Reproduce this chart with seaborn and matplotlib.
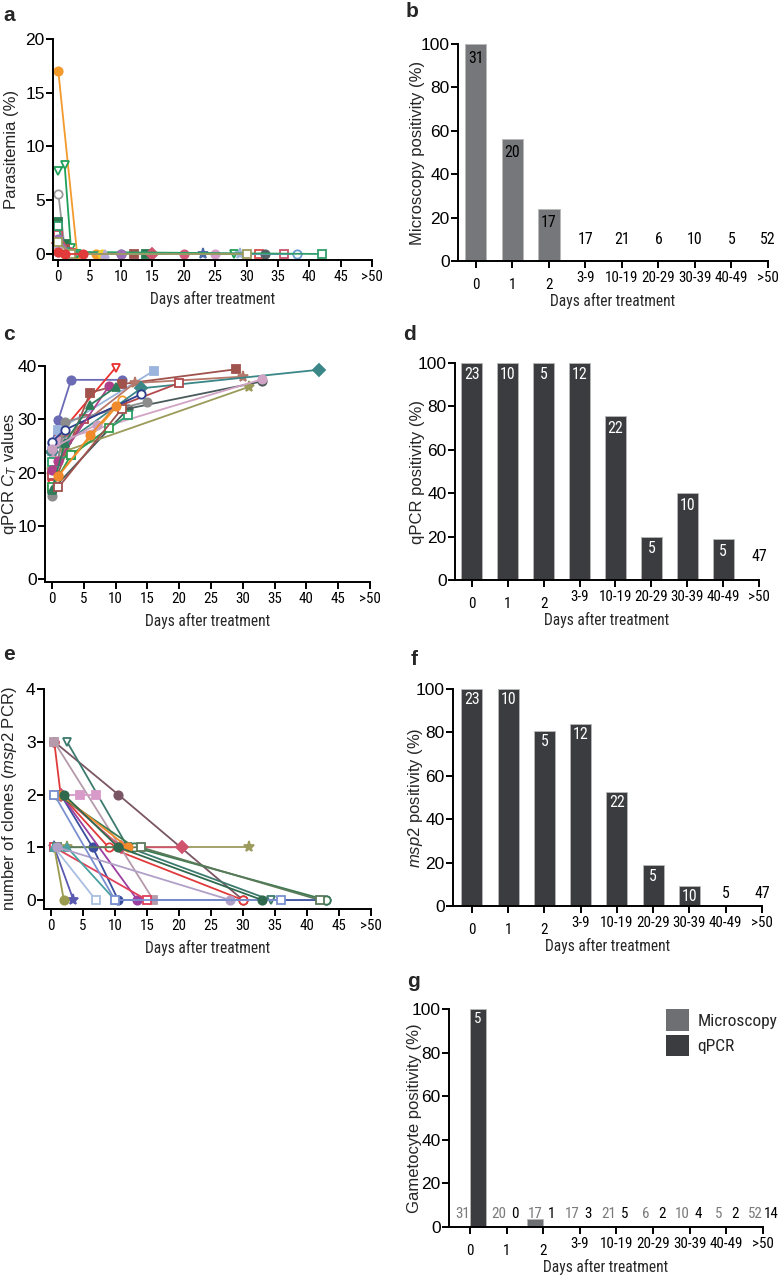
import os
import numpy as np
import pandas as pd
import matplotlib
matplotlib.use("Agg")
import matplotlib.pyplot as plt
from matplotlib import patheffects
from matplotlib import font_manager as fm
from matplotlib.transforms import Affine2D
import seaborn as sns

sns.set_theme(style="ticks")
plt.rcParams["font.family"] = ["Liberation Sans", "DejaVu Sans"]
plt.rcParams["mathtext.fontset"] = "custom"
plt.rcParams["mathtext.it"] = "Liberation Sans:italic"
plt.rcParams["mathtext.rm"] = "Liberation Sans"

# ------------------------------------------------------------------
# data
# ------------------------------------------------------------------
DAY_TICKS = [0, 5, 10, 15, 20, 25, 30, 35, 40, 45, 50]
DAY_TICKLABELS = ["0", "5", "10", "15", "20", "25", "30", "35", "40", "45", ">50"]
CATS = ["0", "1", "2", "3-9", "10-19", "20-29", "30-39", "40-49", ">50"]

# panel a - parasitemia (%) per patient
a_days = [
    [0, 3, 6], [0, 1, 2, 3, 28], [0, 1, 2, 10], [0, 1, 2, 14], [0, 1, 2, 12],
    [0, 1, 2, 29], [0, 2, 15], [0, 1, 20], [0, 2, 23], [0, 1, 25],
    [0, 2, 32], [0, 1, 33], [0, 2, 36], [0, 1, 38], [0, 1, 42],
    [0, 1, 7], [0, 2, 7.5], [0, 2, 10], [0, 2, 30], [0, 1, 4],
]
a_vals = [
    [17, 0, 0], [7.7, 8.3, 0.6, 0, 0], [5.6, 0.6, 0, 0], [3.0, 0.9, 0, 0], [2.2, 0.5, 0, 0],
    [1.5, 0.3, 0, 0], [1.0, 0, 0], [0.3, 0, 0], [0.8, 0, 0], [0.2, 0.05, 0],
    [1.2, 0.1, 0], [0.5, 0, 0], [1.8, 0, 0], [0.4, 0, 0], [2.6, 0.2, 0],
    [0.6, 0, 0], [0.9, 0, 0], [1.4, 0, 0], [1.1, 0, 0], [0.2, 0, 0],
]

# panel c - qPCR CT values per patient
c_days = [
    [0, 1, 3, 11], [0, 1, 10], [0.5, 1, 11], [0, 1, 16], [0, 6, 11, 29],
    [0, 2, 13, 30], [0, 2, 14, 42], [0, 12, 33], [0, 2, 31], [0, 1, 33],
    [0, 5, 20], [0, 2, 15], [0, 3, 12], [0, 2, 14], [0, 3, 9],
    [0, 1, 9], [0, 2, 6, 10], [0, 7], [1, 11], [1, 6, 10],
]
c_vals = [
    [25.5, 29.9, 37.4, 37.4], [17.8, 27.0, 39.7], [19.5, 19.5, 33.6], [24.0, 28.0, 39.1], [17.0, 35.0, 36.6, 39.4],
    [19.5, 26.5, 36.8, 38.0], [23.9, 25.5, 35.8, 39.3], [16.7, 32.0, 37.1], [20.5, 24.0, 36.1], [22.4, 26.0, 37.5],
    [19.5, 30.0, 36.8], [15.5, 29.5, 33.3], [22.0, 23.3, 30.8], [25.8, 28.0, 34.7], [17.2, 23.3, 28.3],
    [20.5, 22.2, 36.3], [16.7, 25.5, 32.7, 36.0], [24.5, 29.0], [17.2, 32.0], [19.3, 27.0, 32.5],
]

# panel e - number of clones (msp2 PCR) per patient
e_days = [
    [0.5, 10.5, 30], [2.5, 12, 34.3], [0.5, 1.5, 9, 30], [0.5, 16], [0.5, 4.5, 7],
    [0.5, 2.5, 31], [1.5, 11, 20.5], [1.5, 6.5, 10.5, 43], [0.5, 3.5], [0.5, 2],
    [0.5, 7], [1.5, 13.5], [0.5, 15], [1, 13, 43], [1, 14, 42],
    [1.5, 12], [0.5, 2.5, 10], [1, 28], [0.5, 10, 36], [2, 10.5, 33],
]
e_vals = [
    [3, 2, 0], [3, 1, 0], [3, 2, 1, 0], [3, 0], [2, 2, 2],
    [1, 1, 1], [2, 1, 1], [2, 1, 0, 0], [1, 0], [1, 0],
    [1, 0], [2, 0], [1, 0], [2, 1, 0], [1, 1, 0],
    [2, 1], [1, 1, 0], [1, 0], [2, 0, 0], [2, 1, 0],
]

# bar panels: positivity (%) and number of samples per interval
micro_pct = [100, 56.3, 24.1, 0, 0, 0, 0, 0, 0]
micro_n = [31, 20, 17, 17, 21, 6, 10, 5, 52]
qpcr_pct = [100, 100, 100, 100, 75.5, 19.8, 39.9, 18.7, 0]
qpcr_n = [23, 10, 5, 12, 22, 5, 10, 5, 47]
msp2_pct = [100, 100, 80.8, 84.0, 52.5, 18.8, 9.2, 0, 0]
msp2_n = [23, 10, 5, 12, 22, 5, 10, 5, 47]
gam_micro_pct = [0, 0, 3.5, 0, 0, 0, 0, 0, 0]
gam_qpcr_pct = [100, 0, 0, 0, 0, 0, 0, 0, 0]
gam_micro_n = [31, 20, 17, 17, 21, 6, 10, 5, 52]
gam_qpcr_n = [5, 0, 1, 3, 5, 2, 4, 2, 14]

# styles for patient lines
A_COLORS = [
    "#f39a2d", "#21a05a", "#9a9a9a", "#2a7a50", "#a0524d",
    "#9bb4dd", "#d0546e", "#d45a7a", "#4a6aa8", "#d79cc8",
    "#d94a4a", "#555f66", "#c8556a", "#6a9ad0", "#2f9e6a",
    "#f0d030", "#b6a8d8", "#9a70b8", "#9c9c5e", "#e03a3a",
]
C_COLORS = [
    "#6b6bb5", "#e8312f", "#f39a2d", "#9bb4dd", "#a0524d",
    "#b5776a", "#3b8686", "#4a5a5a", "#9a9a5a", "#d1a3c4",
    "#b2484d", "#8c8c8c", "#2aa36b", "#2c3e8c", "#2f9e4f",
    "#b0408a", "#2e7d5b", "#c9a0c0", "#a0524d", "#f08a2a",
]
E_COLORS = [
    "#7a5563", "#3d7a6e", "#e03a3a", "#b49aaa", "#d89ac8",
    "#9c9c5e", "#d0546e", "#3b4fa0", "#5a5ab0", "#9b9b50",
    "#a9bfe0", "#9b3fa0", "#e0405a", "#3a7a50", "#5a7a5a",
    "#f08a2a", "#4aa0a0", "#b0a0c8", "#7a90d0", "#2f6a4f",
]
MARKERS = ["o", "v", "o", "s", "s", "*", "D", "o", "*", "o",
           "s", "o", "s", "o", "s", "o", "^", "o", "s", "o"]
FILLED = [True, False, False, True, True, True, True, True, True, True,
          False, True, False, False, False, True, True, True, False, True]

BAR_GRAY = "#76777b"
BAR_DARK = "#3a3c3f"
EDGE = "#b8b8b8"


# ------------------------------------------------------------------
# condensed font for day labels / counts (look for an installed narrow face,
# otherwise squeeze Liberation Sans glyphs with a path effect)
# ------------------------------------------------------------------
def find_narrow_font():
    prefs = ["Liberation Sans Narrow", "Roboto Condensed", "Noto Sans", "Open Sans", "DejaVu Sans", "Roboto"]
    for pref in prefs:
        for f in fm.fontManager.ttflist:
            base = os.path.basename(f.fname).lower()
            if f.style != "normal" or f.weight not in (400, "normal", "regular"):
                continue
            if "semi" in base or "extra" in base or "ultra" in base:
                continue
            if ("condensed" in base or "narrow" in base) and f.name.startswith(pref):
                return f.fname
    return None


class Narrow(patheffects.AbstractPathEffect):
    def __init__(self, sx=0.84, anchor="center"):
        super().__init__()
        self.sx = sx
        self.anchor = anchor

    def draw_path(self, renderer, gc, tpath, affine, rgbFace=None):
        ext = tpath.get_extents()
        cx = ext.x0 if self.anchor == "left" else (ext.x0 + ext.x1) / 2
        t = Affine2D().translate(-cx, 0).scale(self.sx, 1).translate(cx, 0) + affine
        renderer.draw_path(gc, tpath, t, rgbFace)


NARROW_FILE = find_narrow_font()
XFS = 10.8


def narrow(text_artist, size=XFS, anchor="center"):
    if NARROW_FILE:
        text_artist.set_fontproperties(fm.FontProperties(fname=NARROW_FILE, size=size))
    else:
        text_artist.set_fontsize(size)
        text_artist.set_path_effects([Narrow(0.84 if anchor == "center" else 0.82, anchor)])
    return text_artist


# ------------------------------------------------------------------
# figure + axes (pixel layout)
# ------------------------------------------------------------------
W, H = 781, 1276
fig = plt.figure(figsize=(W / 100, H / 100), dpi=100)


def add_ax(left, top, right, bottom):
    return fig.add_axes([left / W, 1 - bottom / H, (right - left) / W, (bottom - top) / H])


def style_axes(ax):
    sns.despine(ax=ax)
    for side in ["left", "bottom"]:
        ax.spines[side].set_linewidth(1.4)
        ax.spines[side].set_color("black")
    ax.tick_params(axis="both", which="both", direction="out", length=5, width=1.4,
                   color="black", labelcolor="black")
    ax.tick_params(axis="y", labelsize=12.5, pad=1)
    ax.tick_params(axis="x", labelsize=XFS, pad=2.5)
    ax.set_facecolor("white")


def set_ylabel(ax, text, offset_px):
    ax.set_ylabel(text, fontsize=12)
    width_px = ax.get_position().width * W
    ax.yaxis.set_label_coords(-offset_px / width_px, 0.5)


def set_xlabel(ax, pad):
    ax.set_xlabel("Days after treatment", labelpad=pad)
    narrow(ax.xaxis.label, XFS + 0.4)


def spaghetti(ax, days, vals, colors, xlim, ylim, yticks, ylabel, yoff):
    for i, (d, v) in enumerate(zip(days, vals)):
        c = colors[i % len(colors)]
        m = MARKERS[i % len(MARKERS)]
        f = FILLED[i % len(FILLED)]
        sns.lineplot(x=d, y=v, ax=ax, color=c, marker=m, markersize=6 if m != "*" else 8,
                     linewidth=1.3, markerfacecolor=c if f else "white",
                     markeredgecolor=c, markeredgewidth=1.3, clip_on=False)
    ax.set_xlim(*xlim)
    ax.set_ylim(*ylim)
    ax.set_xticks(DAY_TICKS, labels=DAY_TICKLABELS)
    ax.set_yticks(yticks)
    style_axes(ax)
    set_xlabel(ax, 5)
    set_ylabel(ax, ylabel, yoff)


def finish_bar(ax, xlim, ylabel, yoff):
    ax.set_xlim(*xlim)
    ax.set_ylim(0, 100)
    ax.set_yticks([0, 20, 40, 60, 80, 100])
    ax.set_xticks(range(3, 9), labels=CATS[3:])
    ax.set_xticks(range(3), labels=CATS[:3], minor=True)
    style_axes(ax)
    ax.tick_params(axis="x", which="minor", length=5, width=1.4, pad=7)
    set_xlabel(ax, 1)
    set_ylabel(ax, ylabel, yoff)


def bar_panel(ax, pct, counts, color, txt_in, off, zero_y, xlim, ylabel, yoff):
    df = pd.DataFrame({"cat": CATS, "pct": pct})
    sns.barplot(data=df, x="cat", y="pct", color=color, width=0.58, ax=ax,
                edgecolor=EDGE, linewidth=0.6, saturation=1)
    for i, (p, n) in enumerate(zip(pct, counts)):
        if p > 0:
            t = ax.text(i, max(p - off, zero_y * 0.6), str(n), ha="center", va="center", color=txt_in)
        else:
            t = ax.text(i, zero_y, str(n), ha="center", va="center", color="black")
        narrow(t, XFS + 0.6)
    finish_bar(ax, xlim, ylabel, yoff)


# a
ax_a = add_ax(53, 39, 372, 260)
spaghetti(ax_a, a_days, a_vals, A_COLORS, (-0.85, 50), (-0.56, 20), [0, 5, 10, 15, 20],
          "Parasitemia (%)", 34)

# b
ax_b = add_ax(458, 44, 768, 261)
bar_panel(ax_b, micro_pct, micro_n, BAR_GRAY, "black", 6.5, 10, (-0.49, 8),
          "Microscopy positivity (%)", 33)

# c
ax_c = add_ax(45, 366, 370, 582)
spaghetti(ax_c, c_days, c_vals, C_COLORS, (-1.1, 50), (-0.56, 40), [0, 10, 20, 30, 40],
          r"qPCR $C_T$ values", 26)

# d
ax_d = add_ax(455, 363, 759, 580)
bar_panel(ax_d, qpcr_pct, qpcr_n, BAR_DARK, "white", 5.5, 10.7, (-0.47, 8),
          "qPCR positivity (%)", 30)

# e
ax_e = add_ax(44, 689, 371, 909)
spaghetti(ax_e, e_days, e_vals, E_COLORS, (-1.1, 50), (-0.17, 4), [0, 1, 2, 3, 4],
          r"number of clones ($msp2$ PCR)", 25)

# f
ax_f = add_ax(453, 689, 762, 906)
bar_panel(ax_f, msp2_pct, msp2_n, BAR_DARK, "white", 5.0, 5.8, (-0.52, 8),
          r"$msp2$ positivity (%)", 28)

# g
ax_g = add_ax(449, 1009, 763, 1227)
g_df = pd.DataFrame({
    "cat": CATS * 2,
    "pct": gam_micro_pct + gam_qpcr_pct,
    "method": ["Microscopy"] * len(CATS) + ["qPCR"] * len(CATS),
})
sns.barplot(data=g_df, x="cat", y="pct", hue="method", palette=["#6d6f72", BAR_DARK],
            width=0.88, ax=ax_g, edgecolor=EDGE, linewidth=0.6, saturation=1)
for i in range(len(CATS)):
    narrow(ax_g.text(i - 0.21, 6.1, str(gam_micro_n[i]), ha="center", va="center",
                     color="#7a7a7a"), XFS)
    if gam_qpcr_pct[i] > 10:
        t = ax_g.text(i + 0.22, gam_qpcr_pct[i] - 4.6, str(gam_qpcr_n[i]), ha="center", va="center",
                      color="white")
    else:
        t = ax_g.text(i + 0.23, 6.1, str(gam_qpcr_n[i]), ha="center", va="center", color="black")
    narrow(t, XFS)
finish_bar(ax_g, (-0.57, 8), "Gametocyte positivity (%)", 27)
handles, labels = ax_g.get_legend_handles_labels()
leg = ax_g.legend(handles, labels, loc="upper left", bbox_to_anchor=(0.67, 1.03), frameon=False,
                  borderaxespad=0, handlelength=1.3, handleheight=1.5, handletextpad=0.5,
                  labelspacing=0.25, prop={"size": 12.5})
for t in leg.get_texts():
    narrow(t, 12.5, anchor="left")
for h in leg.legend_handles:
    h.set_edgecolor("none")

# condensed x tick labels everywhere
for ax in [ax_a, ax_b, ax_c, ax_d, ax_e, ax_f, ax_g]:
    for lab in ax.get_xticklabels(which="both"):
        narrow(lab)

# panel letters
for letter, x, y in [("a", 3, 21), ("b", 406, 17), ("c", 3, 340), ("d", 403, 340),
                     ("e", 3, 660), ("f", 411, 665), ("g", 407, 987)]:
    fig.text(x / W, 1 - y / H, letter, fontsize=15, fontweight="bold", ha="left", va="baseline")

plt.savefig("out.png", dpi=100, facecolor="white")
plt.close()
